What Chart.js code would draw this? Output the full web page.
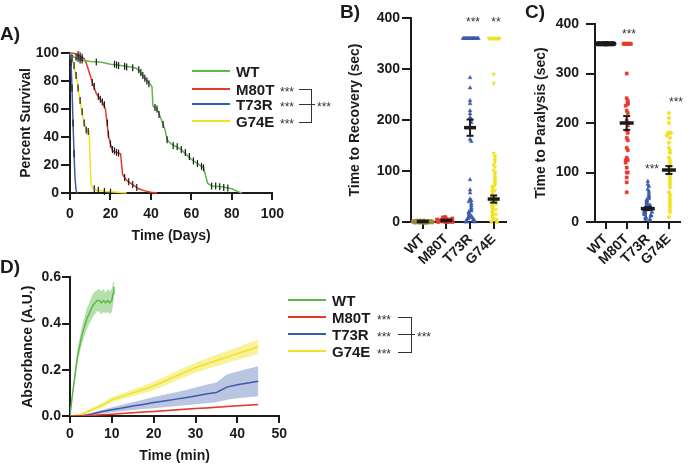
<!DOCTYPE html>
<html>
<head>
<meta charset="utf-8">
<script src="https://cdn.jsdelivr.net/npm/chart.js@4.4.1/dist/chart.umd.min.js"></script>
<style>
  body { margin: 0; width: 690px; height: 466px; position: relative; overflow: hidden; background: #fff;
         font-family: "Liberation Sans", Arial, Helvetica, sans-serif; }
  canvas { position: absolute; }
  .t { position: absolute; white-space: nowrap; line-height: 1; transform: translateY(-50%); color: #1b1b1b; }
  .b { font-weight: bold; }
  .star { font-size: 12px; color: #333; }
  .ln { position: absolute; height: 2px; }
  .br { position: absolute; border: 1.5px solid #333; border-left: none; }
  .hl { position: absolute; border-top: 1.5px solid #333; height: 0; }
</style>
</head>
<body>
<canvas id="cA" width="290" height="215" style="left:0;top:40px"></canvas>
<canvas id="cB" width="175" height="275" style="left:340px;top:0"></canvas>
<canvas id="cC" width="175" height="275" style="left:515px;top:0"></canvas>
<canvas id="cD" width="290" height="198" style="left:0;top:268px"></canvas>
<div id="notes"></div>
<script>
const GROUPS = ['WT', 'M80T', 'T73R', 'G74E'];
const COLORS = ['#5cb84a', '#e8382c', '#3a5aab', '#efe322'];
const INK = '#1b1b1b';

// A) survival curves, [day, percent]
const survWT = [[0,100],[2,97],[5,95],[10,94],[15,93.5],[20,92],[25,91],[30,90],[33,89],[35,86],[37,82],[40,77],[40.5,76],[41,62],[43,60],[45,53],[47,45],[48,38],[50,35],[55,31],[60,24],[66,18],[68,7],[70,5],[75,4.5],[80,3],[83,1],[85,0]];
const survM80T = [[0,100],[3,99.5],[5,98],[7,96],[8,93],[10,84],[11.5,77],[13,71],[14.5,68],[16,65],[17.5,60],[19,41],[20,35],[21,30],[25,28],[26,13],[28,9],[31,6],[34,3],[37,1.5],[40,0.5],[43,0]];
const survT73R = [[0,100],[0.5,93],[1,75],[1.5,50],[2,28],[2.5,10],[3,2],[3.5,0]];
const survG74E = [[0,100],[1,96],[2,90],[3,84],[4,75],[5,65],[6,57],[7,50],[8,45],[9,44],[9.5,44],[10,20],[10.5,6],[11,4],[13,2],[18,1],[25,0.3],[28,0]];
// censored animals, [day, percent]
const censWT = [[3,97],[4,96],[5,95],[6,95],[13,93.5],[22,92],[23,91.5],[24,91],[27,90.5],[28,90],[31,89.5],[34,88],[35,86],[36,84],[37,82],[38,80],[39,78],[42,61],[43,60],[44,56],[46,49],[48,38],[51,34],[53,33],[55,31],[57,29],[59,26],[61,23],[63,21],[65,19],[66,18],[70,5],[72,5],[74,4.5],[76,4],[78,3.5]];
const censM80T = [[4,99],[5,98],[6,97],[11,79],[12,76],[14,69],[15,67],[16,65],[17,63],[18.5,50],[19,42],[20,35],[21,31],[22,30],[23,29],[24,28.5],[27,11],[29,8],[31,6],[33,4]];
const censT73R = [[0.5,93],[1,75],[1.5,50],[2,28]];
const censG74E = [[1,96],[2,91],[3,84],[4,75],[5,66],[6,58],[7,50],[8,45],[9,44],[12,3],[14,2],[17,1],[20,0.5]];

// B) time to recovery (sec)
const recWT = [0,0,1,0,2,0,1,0,0,1,2,0,0,1,0,0,1,0,2,0,0,1,0,0];
const recM80T = [0,1,2,0,3,5,8,10,6,4,2,1,0,3,7,9,5,2,1,0,4,6,3,2,1,0,2,1];
const recT73R = [360,360,360,360,360,360,360,360,360,360,360,360,360,360,283,263,238,232,218,212,205,200,195,162,158,83,63,57,45,42,40,36,32,28,25,22,20,18,15,12,10,9,8,7,6,5,4,3,2,2,1,0,0,0];
const recG74E = [360,360,360,360,360,360,360,360,360,360,290,272,135,130,127,122,118,112,108,102,98,95,92,88,85,82,78,75,72,70,68,65,62,60,58,55,52,50,48,45,44,42,40,38,36,35,32,30,28,26,25,22,20,18,16,15,12,10,8,6,5,3,2,1,0,0];
const recMean = [1, 3, 185, 45];
const recSem = [0.5, 1, 16, 7];

// C) time to paralysis (sec)
const parWT = [360,360,360,360,360,360,360,360,360,360,360,360,360,360,360,360,360,360,360,360];
const parM80T = [360,360,360,360,360,360,360,360,300,250,245,240,238,235,225,220,205,200,195,185,180,170,165,150,145,130,125,125,120,110,100,100,90,80,60];
const parT73R = [82,76,72,66,62,57,53,50,47,45,43,41,39,37,35,34,33,31,30,29,28,27,26,25,25,24,23,22,21,20,20,19,18,17,16,15,14,13,12,10,9,8,6,5,3];
const parG74E = [220,210,200,180,180,180,180,175,170,160,150,145,140,130,125,120,115,110,105,100,95,90,85,80,75,70,60,55,50,45,40,35,30,25,20,10];
const parMean = [360, 200, 27, 105];
const parSem = [0, 14, 3, 8];

// D) absorbance (A.U.) over time (min)
const timeWT = [0,0.5,1,1.5,2,2.5,3,3.5,4,4.5,5,5.5,6,6.5,7,7.5,8,8.5,9,9.5,10,10.3,10.5];
const absWT = [0,0.08,0.15,0.22,0.28,0.32,0.36,0.39,0.42,0.44,0.46,0.48,0.49,0.5,0.5,0.49,0.5,0.49,0.5,0.49,0.5,0.53,0.56];
const sdWT = [0,0.01,0.02,0.03,0.03,0.035,0.04,0.04,0.045,0.045,0.05,0.05,0.05,0.045,0.05,0.05,0.05,0.045,0.05,0.05,0.05,0.05,0.04];
const timeMut = [0,2.5,5,7.5,10,12.5,15,17.5,20,22.5,25,27.5,30,32.5,35,37.5,40,42.5,45];
const absM80T = [0,0,0.002,0.005,0.008,0.011,0.014,0.017,0.02,0.023,0.026,0.029,0.032,0.035,0.038,0.041,0.044,0.047,0.05];
const sdM80T = [0,0,0.001,0.001,0.002,0.002,0.002,0.002,0.003,0.003,0.003,0.003,0.003,0.003,0.003,0.003,0.003,0.003,0.003];
const absT73R = [0,0,0.008,0.018,0.027,0.035,0.043,0.05,0.058,0.065,0.072,0.079,0.087,0.095,0.102,0.125,0.135,0.143,0.15];
const sdT73R = [0,0,0.005,0.008,0.011,0.014,0.017,0.02,0.024,0.027,0.03,0.033,0.036,0.04,0.043,0.055,0.058,0.062,0.065];
const absG74E = [0,0.005,0.025,0.045,0.07,0.085,0.1,0.115,0.13,0.15,0.17,0.19,0.21,0.225,0.24,0.255,0.27,0.285,0.3];
const sdG74E = [0,0.005,0.008,0.01,0.012,0.013,0.015,0.016,0.018,0.019,0.02,0.021,0.022,0.023,0.025,0.026,0.028,0.03,0.03];

const FONT = {family: '"Liberation Sans", Arial, Helvetica, sans-serif', size: 14, weight: 'bold'};

const xy = pairs => pairs.map(p => ({x: p[0], y: p[1]}));
const zip = (xs, ys) => xs.map((x, i) => ({x, y: ys[i]}));

function axis(o) {
  return {
    type: 'linear', min: o.min, max: o.max,
    afterFit: s => { if (s.isHorizontal()) s.height = o.size; else s.width = o.size; },
    afterBuildTicks: o.ticks ? (s => { s.ticks = o.ticks.map(v => ({value: v})); }) : undefined,
    ticks: {stepSize: o.step, color: INK, font: FONT, padding: o.pad, autoSkip: false,
            minRotation: o.rot || 0, maxRotation: o.rot || 0, callback: o.cb},
    grid: {drawOnChartArea: false, drawTicks: true, tickLength: o.tl, tickColor: INK, tickWidth: 2, lineWidth: 2, color: INK},
    border: {display: true, color: INK, width: 2},
    title: {display: !!o.title, text: o.title, color: INK, font: FONT, padding: o.tpad || 0}
  };
}

const base = padding => ({
  responsive: false, animation: false, events: [],
  layout: {padding},
  plugins: {legend: {display: false}, tooltip: {enabled: false}}
});

// deterministic beeswarm spread around a category
function swarm(vals, center, bin, step, maxOff) {
  const slots = Math.floor(maxOff / step);
  return vals.map((v, i) => {
    let k = 0;
    for (let j = 0; j < i; j++) if (Math.abs(vals[j] - v) < bin) k++;
    k = k % (2 * slots + 1);
    const off = (k % 2 ? 1 : -1) * Math.ceil(k / 2) * step;
    return {x: center + off, y: v};
  });
}

// ---------- A ----------
const survs = [survWT, survM80T, survT73R, survG74E];
const cens = [censWT, censM80T, censT73R, censG74E];
new Chart(document.getElementById('cA'), {
  type: 'line',
  data: {datasets: [
    ...cens.map(c => ({data: xy(c), showLine: false, pointStyle: 'line', rotation: 90, pointRadius: 3.5,
                       pointBorderColor: INK, pointBorderWidth: 1.2, clip: false})),
    ...survs.map((s, i) => ({data: xy(s), borderColor: COLORS[i], borderWidth: 1.5, pointRadius: 0, tension: 0, clip: 3}))
  ]},
  options: {...base({top: 13, right: 14, left: 0, bottom: 0}),
    scales: {
      x: axis({min: 0, max: 100, step: 20, size: 62, tl: 7, pad: 6, title: 'Time (Days)', tpad: {top: 0, bottom: 10}}),
      y: axis({min: 0, max: 100, step: 20, size: 70, tl: 9, pad: 2, title: 'Percent Survival', tpad: {top: 18, bottom: 0}})
    }}
});

// ---------- B & C ----------
const SHAPES = [
  {pointStyle: 'circle', rotation: 0},
  {pointStyle: 'rect', rotation: 0},
  {pointStyle: 'triangle', rotation: 0},
  {pointStyle: 'triangle', rotation: 180}
];
function dotDatasets(groups, means, sems, colors, bin, shapes, meanR) {
  const semData = [];
  means.forEach((m, i) => semData.push({x: i, y: m - sems[i]}, {x: i, y: m + sems[i]}, {x: i, y: null}));
  return [
    {data: means.map((m, i) => ({x: i, y: m})), pointStyle: 'line', pointRadius: meanR,
     pointBorderColor: INK, pointBorderWidth: 3.5, clip: false},
    {data: semData, showLine: true, spanGaps: false, borderColor: INK, borderWidth: 2,
     pointStyle: 'line', pointRadius: 3.5, pointBorderColor: INK, pointBorderWidth: 2, clip: false},
    ...groups.map((g, i) => ({data: swarm(g, i, bin, 0.05, 0.42), ...shapes[i], pointRadius: 2.2,
       pointBackgroundColor: colors[i], pointBorderColor: colors[i], pointBorderWidth: 0.5, clip: false}))
  ];
}

new Chart(document.getElementById('cB'), {
  type: 'scatter',
  data: {datasets: dotDatasets([recWT, recM80T, recT73R, recG74E], recMean, recSem,
    ['#9a8a3a', COLORS[1], COLORS[2], COLORS[3]], 6, SHAPES, 6)},
  options: {...base({top: 18, right: 6, left: 0, bottom: 0}),
    scales: {
      x: axis({min: -0.5, max: 3.5, ticks: [0, 1, 2, 3], cb: v => GROUPS[v], rot: 45, size: 53, tl: 7, pad: 2}),
      y: axis({min: 0, max: 400, step: 100, size: 71, tl: 9, pad: 2, title: 'Time to Recovery (sec)', tpad: {top: 7, bottom: 0}})
    }}
});

new Chart(document.getElementById('cC'), {
  type: 'scatter',
  data: {datasets: dotDatasets([parWT, parM80T, parT73R, parG74E], parMean, parSem,
    [INK, COLORS[1], COLORS[2], COLORS[3]], 6,
    [SHAPES[0], SHAPES[1], SHAPES[2], {pointStyle: 'rectRot', rotation: 0}], 7)},
  options: {...base({top: 24, right: 2, left: 0, bottom: 0}),
    scales: {
      x: axis({min: -0.5, max: 3.5, ticks: [0, 1, 2, 3], cb: v => GROUPS[v], rot: 45, size: 53, tl: 7, pad: 2}),
      y: axis({min: 0, max: 400, step: 100, size: 80, tl: 9, pad: 7, title: 'Time to Paralysis (sec)', tpad: {top: 18, bottom: 0}})
    }}
});

// ---------- D ----------
const BANDS = ['rgba(92,184,74,0.45)', 'rgba(232,56,44,0.3)', 'rgba(58,90,171,0.35)', 'rgba(239,227,34,0.45)'];
const absSeries = [
  {t: timeWT, m: absWT, sd: sdWT},
  {t: timeMut, m: absM80T, sd: sdM80T},
  {t: timeMut, m: absT73R, sd: sdT73R},
  {t: timeMut, m: absG74E, sd: sdG74E}
];
const bandSets = [];
absSeries.forEach((s, i) => {
  bandSets.push(
    {data: zip(s.t, s.m.map((v, k) => v + s.sd[k])), borderWidth: 0, pointRadius: 0, fill: '+1', backgroundColor: BANDS[i]},
    {data: zip(s.t, s.m.map((v, k) => v - s.sd[k])), borderWidth: 0, pointRadius: 0, fill: false}
  );
});
new Chart(document.getElementById('cD'), {
  type: 'line',
  data: {datasets: [
    ...absSeries.map((s, i) => ({data: zip(s.t, s.m), borderColor: COLORS[i], borderWidth: 1.5, pointRadius: 0, tension: 0, fill: false})),
    ...bandSets
  ]},
  options: {...base({top: 7, right: 8, left: 0, bottom: 0}),
    scales: {
      x: axis({min: 0, max: 50, step: 10, size: 50, tl: 7, pad: 3, title: 'Time (min)', tpad: {top: 0, bottom: 1}}),
      y: axis({min: 0, max: 0.6, step: 0.2, size: 70, tl: 8, pad: 1, cb: v => v.toFixed(1), title: 'Absorbance (A.U.)', tpad: {top: 20, bottom: 0}})
    }}
});

// ---------- annotations ----------
const notes = document.getElementById('notes');
function put(html, x, y, cls, style) {
  const d = document.createElement('div');
  d.className = cls;
  d.innerHTML = html;
  d.style.left = x + 'px';
  d.style.top = y + 'px';
  if (style) Object.assign(d.style, style);
  notes.appendChild(d);
  return d;
}
function center(el) { el.style.transform = 'translate(-50%,-50%)'; }

put('A)', 0, 33, 't b', {fontSize: '19px'});
put('B)', 340, 11, 't b', {fontSize: '19px'});
put('C)', 525, 11, 't b', {fontSize: '19px'});
put('D)', 0, 266, 't b', {fontSize: '19px'});

function legend(x0, ys, starX, brX, brW, bigStarX) {
  GROUPS.forEach((g, i) => {
    put('', x0, ys[i] - 1, 'ln', {width: '38px', background: COLORS[i]});
    put(g, x0 + 44, ys[i], 't b', {fontSize: '15px'});
    if (i > 0) put('***', starX, ys[i] + 3, 't star');
  });
  put('', brX, ys[1], 'br', {width: brW + 'px', height: (ys[3] - ys[1]) + 'px'});
  put('', brX, ys[2], 'hl', {width: (brW + 4) + 'px'});
  put('***', bigStarX, ys[2] + 3, 't star');
}
legend(192, [71, 89, 104, 121], 280, 299, 12, 317);
legend(288, [300, 317, 334, 351], 377, 398, 13, 417);

center(put('***', 473, 22, 't star'));
center(put('**', 496, 22, 't star'));
center(put('***', 629, 34, 't star'));
center(put('***', 652, 169, 't star'));
center(put('***', 676, 102, 't star'));
</script>
</body>
</html>
